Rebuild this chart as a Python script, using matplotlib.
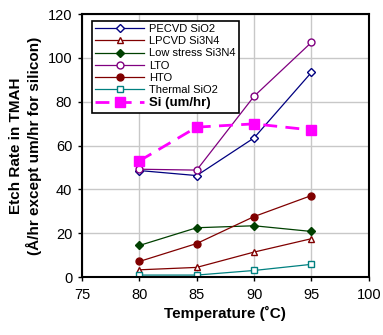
import matplotlib
matplotlib.use("Agg")
import matplotlib.pyplot as plt

plt.rcParams['font.family'] = ['Liberation Sans', 'DejaVu Sans']

temps = [80, 85, 90, 95]
pecvd = [48.6, 46.3, 63.5, 93.4]
lpcvd = [3.3, 4.4, 11.4, 17.5]
lowstress = [14.4, 22.5, 23.4, 20.8]
lto = [49.2, 48.8, 82.5, 107.1]
hto = [7.1, 15.3, 27.6, 37.2]
thermal = [0.9, 0.9, 3.0, 5.8]
si = [53.0, 68.4, 69.9, 67.1]
xticks = [75, 80, 85, 90, 95, 100]
yticks = [0, 20, 40, 60, 80, 100, 120]

fig = plt.figure(figsize=(3.83, 3.35), dpi=100)
ax = fig.add_axes([0.214, 0.173, 0.749, 0.785])

ax.plot(temps, pecvd, color='#000080', lw=0.9, marker='D', ms=4.5, mfc='white', mec='#000080', label='PECVD SiO2')
ax.plot(temps, lpcvd, color='#800000', lw=0.9, marker='^', ms=5, mfc='white', mec='#800000', label='LPCVD Si3N4')
ax.plot(temps, lowstress, color='#004000', lw=0.9, marker='D', ms=4.5, mfc='#004000', mec='#004000', label='Low stress Si3N4')
ax.plot(temps, lto, color='#800080', lw=0.9, marker='o', ms=5, mfc='white', mec='#800080', label='LTO')
ax.plot(temps, hto, color='#800000', lw=0.9, marker='o', ms=5, mfc='#800000', mec='#800000', label='HTO')
ax.plot(temps, thermal, color='#008080', lw=0.9, marker='s', ms=4.5, mfc='white', mec='#008080', label='Thermal SiO2')
ax.plot(temps, si, color='#FF00FF', lw=2, ls=(0, (5, 3)), marker='s', ms=7.5, mfc='#FF00FF', mec='#FF00FF', label='Si (um/hr)')

ax.set_xlim(75, 100)
ax.set_ylim(0, 120)
ax.set_xticks(xticks)
ax.set_yticks(yticks)
ax.grid(True, color='#c8c8c8', lw=1)
ax.set_axisbelow(True)
ax.tick_params(axis='both', direction='out', length=3, width=1, labelsize=10.5)
ax.tick_params(axis='y', pad=4)
ax.tick_params(axis='x', pad=5)
for s in ax.spines.values():
    s.set_linewidth(1.5)
    s.set_color('black')

ax.set_xlabel('Temperature (\u02daC)', fontsize=11, fontweight='bold', labelpad=3)
ax.set_ylabel('Etch Rate in TMAH\n(\u00c5/hr except um/hr for silicon)', fontsize=11, fontweight='bold', labelpad=4)

leg = ax.legend(loc='upper left', bbox_to_anchor=(0.035, 0.975), fontsize=8, frameon=True, fancybox=False,
                edgecolor='black', framealpha=1, borderpad=0.3, labelspacing=0.2, handlelength=4.4,
                handletextpad=0.4, borderaxespad=0)
leg.get_frame().set_linewidth(1.2)
for t in leg.get_texts():
    if t.get_text().startswith('Si'):
        t.set_fontweight('bold')
        t.set_fontsize(9.5)

fig.savefig('out.png', dpi=100)
